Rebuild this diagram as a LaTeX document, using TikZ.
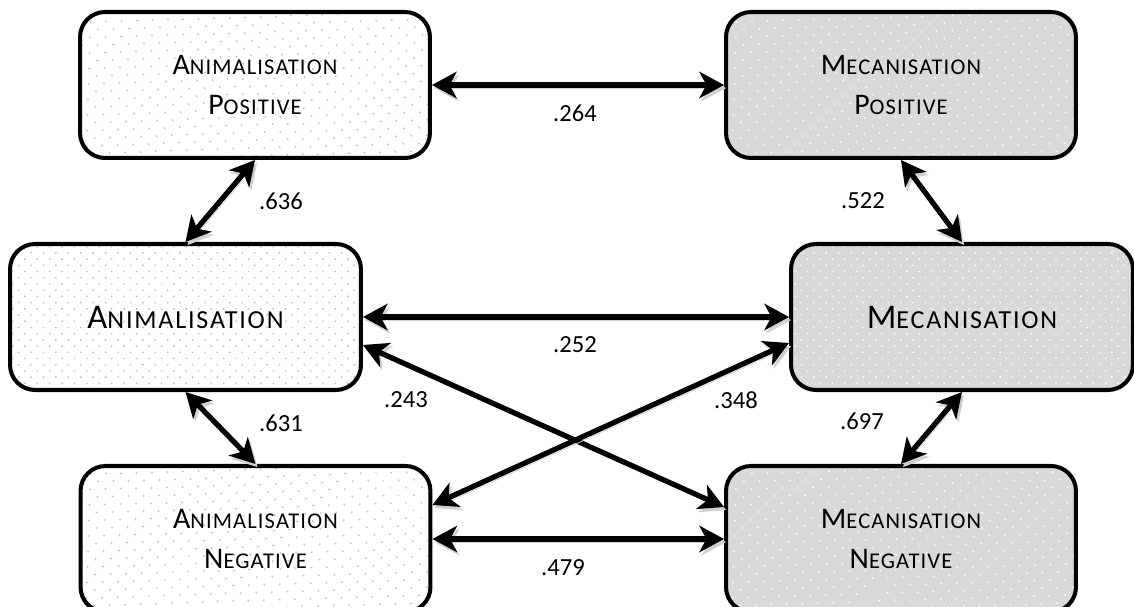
\documentclass[tikz,border=0pt]{standalone}
\usepackage{fontspec}
\setmainfont{Carlito}
\usetikzlibrary{arrows.meta,patterns.meta}

\definecolor{mecgray}{RGB}{217,217,217}
\definecolor{dotgray}{RGB}{185,185,185}

% first letter full size, the rest as small capitals
\newcommand{\boxsc}[2]{#1{\fontsize{12.8pt}{22.7pt}\addfontfeature{LetterSpace=5}#2}}
\newcommand{\bigsc}[2]{#1{\fontsize{14.8pt}{24pt}\addfontfeature{LetterSpace=7}#2}}

\tikzset{
  anibox/.style={draw, line width=2.3pt, rounded corners=0.5cm,
    minimum width=7cm, minimum height=2.92cm, align=center,
    preaction={fill=white}, pattern={Dots[distance=6.5pt, radius=0.6pt, angle=45]},
    pattern color=dotgray, font=\fontsize{17pt}{22.7pt}\selectfont},
  mecbox/.style={anibox, preaction={fill=mecgray}, pattern color=white},
  bigtext/.style={font=\fontsize{19.7pt}{24pt}\selectfont,
    pattern={Dots[distance=5pt, radius=0.55pt, angle=45]}},
  link/.style={line width=3pt, <->,
    >={Stealth[length=14pt, width=15pt, inset=4pt]},
    preaction={draw=black!18, transform canvas={xshift=1.2pt, yshift=-1.8pt}}},
  num/.style={font=\fontsize{14pt}{16pt}\selectfont, inner sep=0pt}
}

\begin{document}
\begin{tikzpicture}[x=0.02cm, y=-0.02cm]
        \useasboundingbox (0,0) rectangle (1134,607);
        % boxes
        \node[anibox] (apos) at (255,85) {\boxsc{A}{NIMALISATION}\\\boxsc{P}{OSITIVE}};
        \node[mecbox] (mpos) at (901,85) {\boxsc{M}{ECANISATION}\\\boxsc{P}{OSITIVE}};
        \node[anibox, bigtext, minimum width=7.02cm] (anim) at (185.5,317) {\bigsc{A}{NIMALISATION}};
        \node[mecbox, bigtext, pattern color=white, minimum width=6.84cm] (mec) at (962,317) {\bigsc{M}{ECANISATION}};
        \node[anibox] (aneg) at (255.5,539) {\boxsc{A}{NIMALISATION}\\\boxsc{N}{EGATIVE}};
        \node[mecbox] (mneg) at (901,539) {\boxsc{M}{ECANISATION}\\\boxsc{N}{EGATIVE}};
        % links
        \draw[link] (apos) -- (mpos);
        \draw[link] (anim) -- (mec);
        \draw[link] (aneg) -- (mneg);
        \draw[link] (apos.south) -- (anim.north);
        \draw[link] (mpos.south) -- (mec.north);
        \draw[link] (anim.south) -- (aneg.north);
        \draw[link] (mec.south) -- (mneg.north);
        \draw[link] ([yshift=-0.56cm]anim.east) -- ([yshift=0.64cm]mneg.west);
        \draw[link] ([yshift=-0.52cm]mec.west) -- ([yshift=0.68cm]aneg.east);
        % values
        \node[num] (r264) at (575,113) {.264};
        \node[num] (r636) at (281,201) {.636};
        \node[num] (r522) at (863,201) {.522};
        \node[num] (r252) at (575,345) {.252};
        \node[num] (r243) at (406,400) {.243};
        \node[num] (r348) at (736,400) {.348};
        \node[num] (r631) at (281,423) {.631};
        \node[num] (r697) at (862,421) {.697};
        \node[num] (r479) at (563,568) {.479};
\end{tikzpicture}
\end{document}
